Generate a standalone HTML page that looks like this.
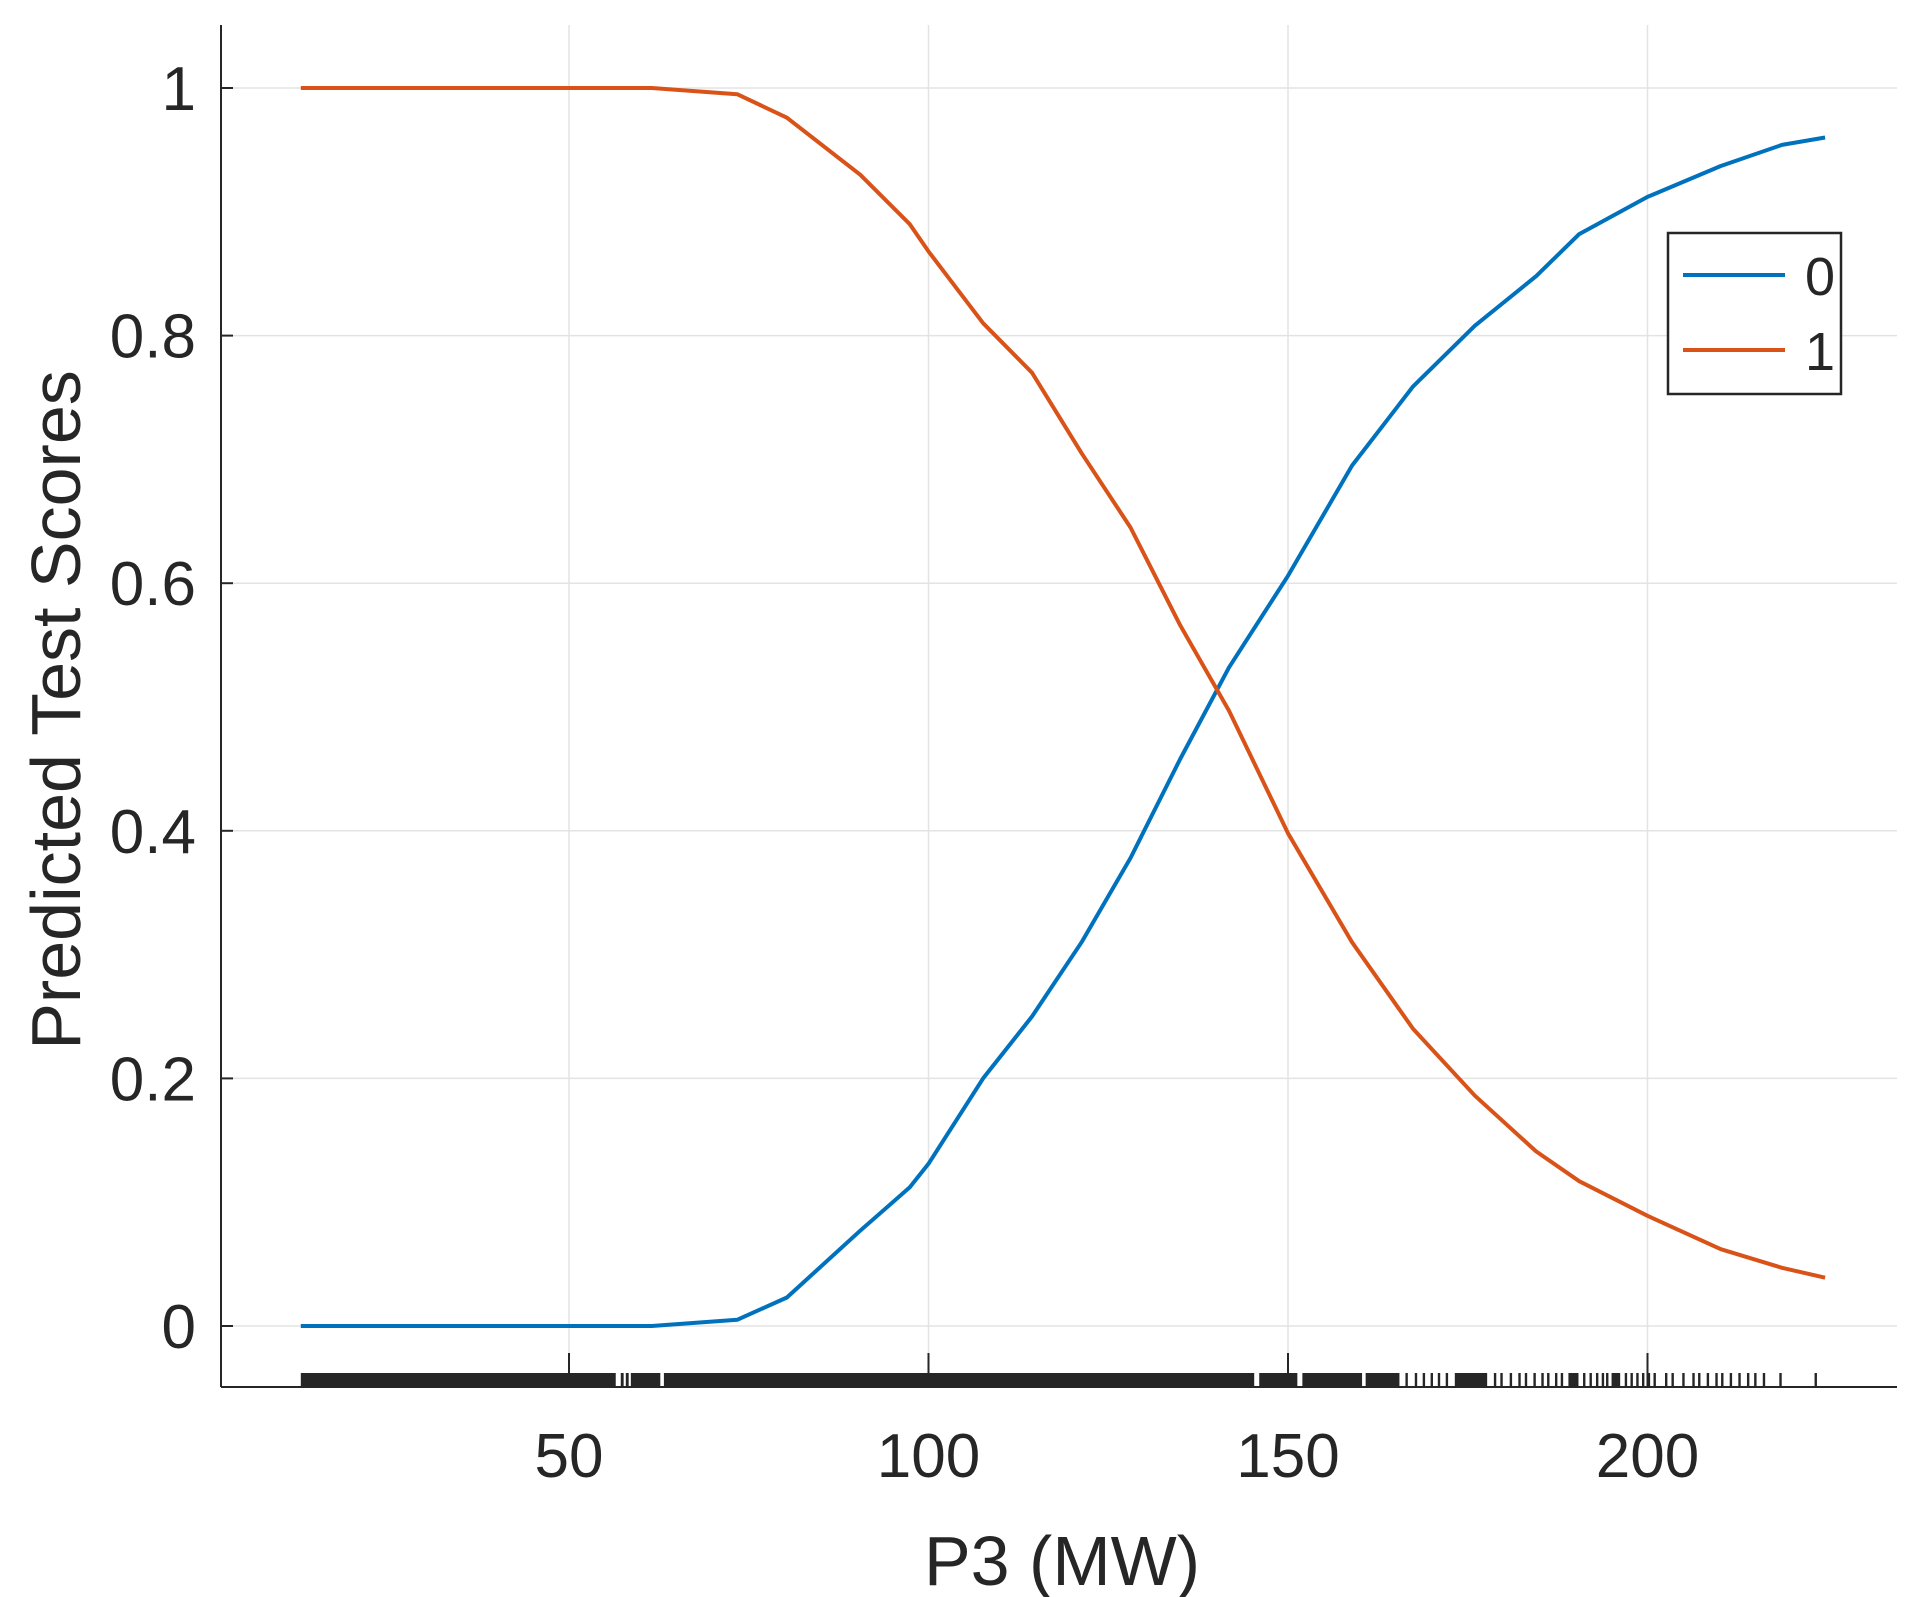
<!DOCTYPE html>
<html><head><meta charset="utf-8">
<style>
html,body{margin:0;padding:0;background:#fff;}
svg{display:block;font-family:"Liberation Sans",Arial,sans-serif;}
</style></head>
<body>
<svg id="chart" width="1918" height="1597" viewBox="0 0 1918 1597" xmlns="http://www.w3.org/2000/svg">
<g id="grid"></g>
<g id="series"></g>
<g id="rug"></g>
<g id="axes"></g>
<text x="0" y="0" transform="translate(80,710) rotate(-90)" text-anchor="middle" font-size="70" fill="#262626">Predicted Test Scores</text>
<text x="1062" y="1585" text-anchor="middle" font-size="70" fill="#262626">P3 (MW)</text>
<g>
  <rect x="1668" y="233" width="173" height="161" fill="#fff" stroke="#262626" stroke-width="2.5"/>
  <line x1="1683" y1="275" x2="1785" y2="275" stroke="#0072BD" stroke-width="4"/>
  <text x="1805" y="295" font-size="54" fill="#262626">0</text>
  <line x1="1683" y1="350" x2="1785" y2="350" stroke="#D95319" stroke-width="4"/>
  <text x="1805" y="370" font-size="54" fill="#262626">1</text>
</g>
</svg>
<script>
const xTicks = [50, 100, 150, 200];
const yTicks = [0, 0.2, 0.4, 0.6, 0.8, 1];
const yTickLabels = ["0", "0.2", "0.4", "0.6", "0.8", "1"];
const xValues = [12.7, 40, 61.5, 73.4, 80.3, 90.5, 97.4, 100, 107.6, 114.4, 121.3, 128.1, 135, 141.8, 150, 158.9, 167.4, 176, 184.5, 190.5, 200, 210.2, 218.7, 224.7];
const class0 = [0, 0, 0, 0.005, 0.023, 0.077, 0.112, 0.131, 0.2, 0.25, 0.31, 0.378, 0.458, 0.532, 0.606, 0.695, 0.759, 0.808, 0.848, 0.882, 0.912, 0.937, 0.954, 0.96];
const class1 = [1, 1, 1, 0.995, 0.976, 0.93, 0.89, 0.868, 0.81, 0.77, 0.705, 0.645, 0.566, 0.497, 0.398, 0.31, 0.24, 0.186, 0.141, 0.117, 0.089, 0.062, 0.047, 0.039];
const rugSegments = [[12.7,56.5],[57.2,57.6],[57.9,58.3],[58.6,62.7],[63.2,145.3],[146,151.3],[152,160.3],[160.8,165.5],[173.2,177.7],[189,190.4],[195,196.2]];
const rugTicks = [166.5,167.8,168.9,170,171,172.1,178.8,179.7,181,182.2,183.1,184.3,185.4,186.2,187.3,188.1,191.2,192.1,193,193.8,194.4,197,197.8,198.6,199.4,200.2,201,202.6,203.5,205,206.4,207.2,208.4,209.6,210.4,211.6,212.8,214,215,216.2,218.5,223.4];

const NS = "http://www.w3.org/2000/svg";
const X0 = 221, X1 = 1897, Y0 = 25, Y1 = 1387;
function sx(v){ return 569 + (v - 50) * 7.19; }
function sy(v){ return 1326 - v * 1238; }
function mk(tag, attrs, parent){
  const e = document.createElementNS(NS, tag);
  for (const k in attrs) e.setAttribute(k, attrs[k]);
  parent.appendChild(e); return e;
}
const grid = document.getElementById('grid');
const axes = document.getElementById('axes');
const series = document.getElementById('series');
const rug = document.getElementById('rug');

xTicks.forEach(t => {
  const g = mk('line', {x1: sx(t), y1: Y0, x2: sx(t), y2: Y1, stroke: '#e3e3e3', 'stroke-width': 1.5}, grid);
  
  
  const tk = mk('line', {x1: sx(t), y1: Y1, x2: sx(t), y2: Y1 - 34, stroke: '#262626', 'stroke-width': 2}, axes);
  
  
  const lb = mk('text', {x: sx(t), y: 1477, 'text-anchor': 'middle', 'font-size': 62, fill: '#262626'}, axes);
  lb.textContent = t;
  
  
});
yTicks.forEach((t, i) => {
  const g = mk('line', {x1: X0, y1: sy(t), x2: X1, y2: sy(t), stroke: '#e3e3e3', 'stroke-width': 1.5}, grid);
  
  
  const tk = mk('line', {x1: X0, y1: sy(t), x2: X0 + 12, y2: sy(t), stroke: '#262626', 'stroke-width': 2}, axes);
  
  
  const lb = mk('text', {x: 196, y: sy(t) + 22, 'text-anchor': 'end', 'font-size': 62, fill: '#262626'}, axes);
  lb.textContent = yTickLabels[i];
  
  
});
const yax = mk('line', {x1: X0, y1: Y0, x2: X0, y2: Y1, stroke: '#262626', 'stroke-width': 2}, axes);


const xax = mk('line', {x1: X0, y1: Y1, x2: X1, y2: Y1, stroke: '#262626', 'stroke-width': 2}, axes);



function drawLine(vals, color, name){
  const d = xValues.map((x, i) => (i ? 'L' : 'M') + sx(x).toFixed(1) + ' ' + sy(vals[i]).toFixed(1)).join(' ');
  const p = mk('path', {d: d, fill: 'none', stroke: color, 'stroke-width': 4, 'stroke-linejoin': 'round'}, series);
  
  
}
drawLine(class0, '#0072BD', 'series-line-0');
drawLine(class1, '#D95319', 'series-line-1');

rugSegments.forEach(s => {
  const r = mk('rect', {x: sx(s[0]), y: 1373, width: sx(s[1]) - sx(s[0]), height: 14, fill: '#262626'}, rug);
  
  
});
rugTicks.forEach(v => {
  const r = mk('rect', {x: sx(v) - 1.2, y: 1373, width: 2.4, height: 14, fill: '#262626'}, rug);
  
  
});
</script>
</body></html>
